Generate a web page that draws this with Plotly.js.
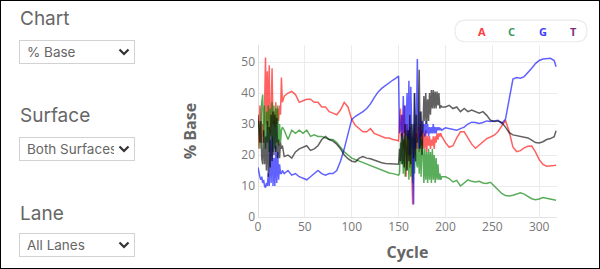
<!DOCTYPE html>
<html>
<head>
<meta charset="utf-8">
<script src="https://cdn.plot.ly/plotly-3.0.1.min.js"></script>
<style>
  html, body { margin:0; padding:0; background:#fff; }
  #wrap { position:relative; width:600px; height:269px; overflow:hidden; font-family: Inter, Roboto, sans-serif; }
  #plot { position:absolute; left:0; top:0; width:600px; height:269px; }
  #frame { position:absolute; left:0; top:0; width:600px; height:269px; box-sizing:border-box; border:1px solid #000; pointer-events:none; }
  .lbl { position:absolute; left:20px; font-size:19px; line-height:19px; color:#666; font-weight:400; }
  .sel { position:absolute; left:19px; width:116px; height:24px; box-sizing:border-box; border:1px solid #d2d2d2; background:#fff; }
  .sel span { position:absolute; left:7px; top:4px; font-size:13.5px; line-height:15px; color:#666; white-space:nowrap; overflow:hidden; }
  .sel svg { position:absolute; left:98px; top:7px; }
</style>
</head>
<body>
<div id="wrap">
  <div id="plot"></div>
  <div class="lbl" style="top:9px;">Chart</div>
  <div class="sel" style="top:40px;"><span style="width:85px;">% Base</span><svg width="12" height="9" viewBox="0 0 12 9"><polyline points="1.5,1.5 6,6 10.5,1.5" fill="none" stroke="#333" stroke-width="2.2"/></svg></div>
  <div class="lbl" style="top:106px;">Surface</div>
  <div class="sel" style="top:137px;"><span style="width:87px;">Both Surfaces</span><svg width="12" height="9" viewBox="0 0 12 9"><polyline points="1.5,1.5 6,6 10.5,1.5" fill="none" stroke="#333" stroke-width="2.2"/></svg></div>
  <div class="lbl" style="top:204px;">Lane</div>
  <div class="sel" style="top:233px;"><span style="width:85px;">All Lanes</span><svg width="12" height="9" viewBox="0 0 12 9"><polyline points="1.5,1.5 6,6 10.5,1.5" fill="none" stroke="#333" stroke-width="2.2"/></svg></div>
  <div id="frame"></div>
</div>
<script>
// ---- data ----
const cycles = [
  0,1,2,3,4,5,6,7,8,9,10,11,12,13,14,15,16,17,18,19,20,21,22,23,24,25,26,
  28,32,36,40,44,48,52,56,60,64,68,72,76,80,84,88,92,96,100,104,108,112,116,120,124,128,132,136,140,144,148,
  150,151,152,153,154,155,156,157,158,159,160,161,162,163,164,165,166,167,168,169,170,171,172,173,174,175,176,177,178,179,180,181,182,183,184,185,186,187,188,189,190,191,192,193,194,195,196,
  200,204,208,212,216,220,224,228,232,236,240,244,248,252,256,260,264,268,272,276,280,284,288,292,296,300,304,308,312,316,318
];
const pctA = [
  22,27,36,33,24,30,26,35,51.5,30,47,28,49,27,33,48,30,34,29,37,30,35,31,36,33,45,37,
  39,40,40.5,39.5,37,37.5,38,38,37,37,35.5,35.5,34,33.5,33,34.5,37,35.5,31.5,29.5,28.5,27.5,27.5,28.5,27,26.5,26,25.5,25.5,25,24.8,
  24.5,31,35,26,33,22,36,18,13,30,20,28,16,27,10,4,24,30,20,27,22,29,21,30,23,28,22,27,22,28,21,26,23,26,22,25,23,26,22,26,24,27,25,27,26,27,26,
  24,22.5,23,25.5,27.5,27.5,25.5,23.5,22.2,23.3,24.3,25.3,25.8,26.4,27.5,29.5,31.2,27.5,22.5,21.1,21.4,22.3,22.8,22.9,21,18.5,17,16.4,16.4,16.6,16.7
];
const pctC = [
  29,31,22,33,37,39.5,24,36,22,34,24,36,21,35,26,37,21,36,22,35,24,36,23,30,24,28,29,
  28,25,28,27,28,27,28,26,26.5,26,26,25.5,25,25,24,22.5,21,20,19,18.5,18,17.5,17,16.5,16,15.5,15,14.5,14.2,14,13.5,
  13.5,14,24,17,27,14,26,13,28,15,27,12,29,13,26,11,30,14,25,18,16,26,14,27,13,25,21,11,22,12,21,11,22,12,21,11,22,12,20,11,19,12,17,12,14,12,13,
  13,12.4,11.3,11.8,10,11,12,11.5,11.3,11.5,11,10.8,11.2,10,8.8,7.6,6.9,6.8,7,7.5,7.8,7.4,6.6,5.9,5.6,5.8,6.3,6.1,5.8,5.6,5.4
];
const pctG = [
  16,14,13,12,13,11,12,10,9.5,11,10,14,10,25,11,26,10,19,10,23,11,21,12,17,14,14,15,
  14,15,13.5,14,13,12.5,12,13,14,15,14,13.5,14,14,15,18,22,27,31.5,32.5,33.2,34,35,36.5,38.5,40.3,41.5,42.5,43.3,44.2,45,
  45.5,27,28,33,25,39,27,36,26,40,25,44,20,42,30,18,4,40,22,30,51,30,22,34,26,31,27,30,26,31,27,30,26,29,27,29,27,30,27,29,27,29,28,29,28,28.5,28,
  28.8,28.5,28.3,28,28.5,29,30,30.6,30.5,30.2,30.5,31,30.8,31,31.2,30.2,31.5,38,44.5,45,44.8,45.3,46.5,48,49.5,50.5,51,51.2,51.2,50.5,48.5
];
const pctT = [
  33,28,24,31,19,17,28,17,26,15,31,13,29,16,33,18,34,20,33,21,32,19,25,19,24,22,23,
  19.5,20,19,21,22,22.5,23,21.5,22,23,25,26,25,24.5,23.5,22,20,18.8,18,17.8,19,19.5,19,18.8,18.3,17.8,17.5,17.3,17.2,17,17,
  17,22,18,27,17,25,16,30,20,15,28,18,33,17,30,22,19,40,18,33,24,30,47.5,22,34,20,32,39,31,40,30,38,31,40,33,41,35,41,35,40.5,35,40.5,36,40,35,36,35.5,
  35.5,36,35,35.5,34,35,34,34.5,34,33.5,34,32.8,31.2,30.8,31,30.5,29,27.2,26.5,26.2,25.9,25.8,25.5,24.8,24,23.9,24.3,25,25.3,25.9,27.8
];
const bases = ['A','C','G','T'];
const lineColors = ['rgba(255,0,0,0.62)','rgba(0,128,0,0.65)','rgba(0,0,255,0.62)','rgba(0,0,0,0.62)'];
const legendColors = ['#ff3b3b','#3f9a55','#3b3bff','#7a2f7a'];
const xTicks = [0,50,100,150,200,250,300];
const yTicks = [0,10,20,30,40,50];

const series = [pctA, pctC, pctG, pctT];
const traces = series.map((vals, i) => ({
  x: cycles, y: vals, type: 'scatter', mode: 'lines', name: bases[i],
  line: {color: lineColors[i], width: 1.5}, hoverinfo: 'skip'
}));

// legend pill (paper coords)
const lx0 = 0.659, lx1 = 1.100, ly0 = 1.019, ly1 = 1.145;
const rx = 0.036, ym = (ly0 + ly1) / 2;
const pill = `M ${lx0+rx},${ly0} L ${lx1-rx},${ly0} Q ${lx1},${ly0} ${lx1},${ym} Q ${lx1},${ly1} ${lx1-rx},${ly1} L ${lx0+rx},${ly1} Q ${lx0},${ly1} ${lx0},${ym} Q ${lx0},${ly0} ${lx0+rx},${ly0} Z`;
const legendX = [0.748, 0.849, 0.953, 1.0545];
const annotations = bases.map((b, i) => ({
  text: '<b>' + b + '</b>', xref: 'paper', yref: 'paper', x: legendX[i], y: 1.081,
  showarrow: false, xanchor: 'center', yanchor: 'middle',
  font: {size: 11, color: legendColors[i], family: 'Open Sans, sans-serif'}
}));

const layout = {
  width: 600, height: 269,
  margin: {l: 258, r: 43, t: 45, b: 52},
  paper_bgcolor: 'rgba(0,0,0,0)', plot_bgcolor: 'rgba(0,0,0,0)',
  showlegend: false,
  font: {family: 'Open Sans, sans-serif', size: 12, color: '#777'},
  xaxis: {
    range: [0, 319], tickvals: xTicks, ticks: '', showline: false,
    gridcolor: '#ebebeb', zeroline: true, zerolinecolor: '#dedede',
    tickfont: {size: 12, color: '#777'}, ticklabelstandoff: 1,
    title: {text: 'Cycle', standoff: 12, font: {size: 16, color: '#666', weight: 'bold'}}
  },
  yaxis: {
    range: [0, 55.5], tickvals: yTicks, ticks: '', showline: false,
    gridcolor: '#ebebeb', zeroline: true, zerolinecolor: '#e4e4e4',
    tickfont: {size: 12, color: '#777'}, ticklabelstandoff: 2,
    title: {text: '% Base', standoff: 40, font: {size: 16, color: '#666', weight: 'bold'}}
  },
  shapes: [{type: 'path', xref: 'paper', yref: 'paper', path: pill,
            line: {color: '#ececec', width: 1.2}, fillcolor: '#fff', layer: 'above'}],
  annotations: annotations
};

Plotly.newPlot('plot', traces, layout, {staticPlot: true, displayModeBar: false});
</script>
</body>
</html>
